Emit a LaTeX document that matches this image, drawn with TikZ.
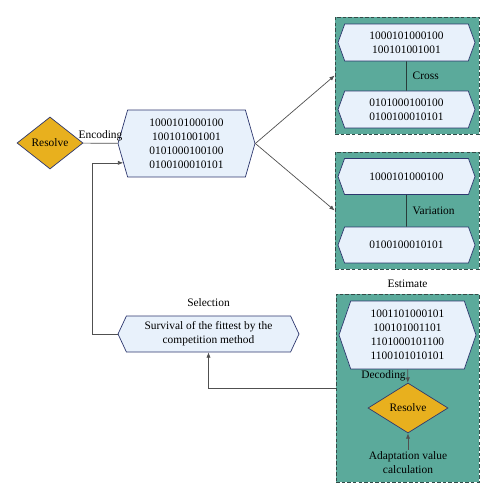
\documentclass[tikz,border=0pt]{standalone}
\usepackage{fontspec}
\setmainfont{Liberation Serif}
\usetikzlibrary{shapes.geometric, shapes.symbols, arrows.meta, positioning}
\definecolor{hexblue}{RGB}{232,241,251}
\definecolor{hexline}{RGB}{45,55,110}
\definecolor{resgold}{RGB}{232,176,30}
\definecolor{boxteal}{RGB}{91,170,155}
\definecolor{boxline}{RGB}{50,75,72}
\definecolor{linkgray}{RGB}{80,80,80}
\tikzstyle{code} = [signal, signal to=east and west, signal pointer angle=140, draw=hexline, fill=hexblue, align=center, inner sep=1pt]
\tikzstyle{resolve} = [diamond, draw=hexline, fill=resgold, inner sep=0pt]
\tikzstyle{group} = [rectangle, draw=boxline, dash pattern=on 2pt off 1.2pt, fill=boxteal, minimum width=2.88cm, minimum height=2.34cm]
\tikzstyle{arrow} = [draw=linkgray, -{Latex[length=3pt,width=2.4pt]}]
\tikzstyle{link} = [draw=linkgray]
\tikzstyle{inner} = [draw=boxline!80!black]
\tikzstyle{tag} = [align=center, inner sep=1pt]

\begin{document}
\begin{tikzpicture}
[x=0.02cm, y=-0.02cm, font=\fontsize{6.5}{8}\selectfont]
\useasboundingbox (0,0) rectangle (497,500);

% grouped steps
\node (crossbox) [group] at (407,75.5) {};
\node (varbox) [group] at (407,210.5) {};
\node (estbox) [group, minimum width=2.86cm, minimum height=3.76cm] at (407.5,388) {};
\node (esttag) [tag, above=2pt of estbox] {Estimate};

\node (start) [resolve, minimum width=1.32cm, minimum height=1.04cm] at (50,143) {Resolve};
\node (encoded) [code, signal pointer angle=148, minimum width=2.74cm, minimum height=1.34cm] at (186.5,143.5) {1000101000100\\100101001001\\0101000100100\\0100100010101};

\node (cross1) [code, minimum width=2.74cm, minimum height=0.74cm] at (406.5,42.5) {1000101000100\\100101001001};
\node (cross2) [code, minimum width=2.74cm, minimum height=0.74cm] at (406.5,109.5) {0101000100100\\0100100010101};
\node (var1) [code, minimum width=2.74cm, minimum height=0.72cm] at (406.5,176.5) {1000101000100};
\node (var2) [code, minimum width=2.74cm, minimum height=0.72cm] at (406.5,245) {0100100010101};

\node (decode) [code, signal pointer angle=142, minimum width=2.74cm, minimum height=1.36cm] at (407.5,335) {1001101000101\\100101001101\\1101000101100\\1100101010101};
\node (evaluate) [resolve, minimum width=1.6cm, minimum height=1.0cm] at (408,408) {Resolve};
\node (fitness) [tag] at (408,463) {Adaptation value\\calculation};

\node (select) [code, signal pointer angle=130, minimum width=3.62cm, minimum height=0.72cm] at (208.5,334) {Survival of the fittest by the\\competition method};
\node (seltag) [tag, above=4pt of select] {Selection};

\draw [link] (start) -- node[above, inner sep=1pt] {Encoding} (encoded);
\draw [arrow] (encoded.east) -- (crossbox.west);
\draw [arrow] (encoded.east) -- (varbox.west);
\draw [inner] (cross1) -- node[right] {Cross} (cross2);
\draw [inner] (var1) -- node[right] {Variation} (var2);
\draw [arrow] (decode) -- node[left, inner sep=1pt] {Decoding} (evaluate);
\draw [arrow] (fitness) -- (evaluate);
\draw [arrow] (estbox.west) -| (select.south);
\draw [arrow] (select.west) -- ++(-25,0) |- (encoded.197);

\end{tikzpicture}
\end{document}
